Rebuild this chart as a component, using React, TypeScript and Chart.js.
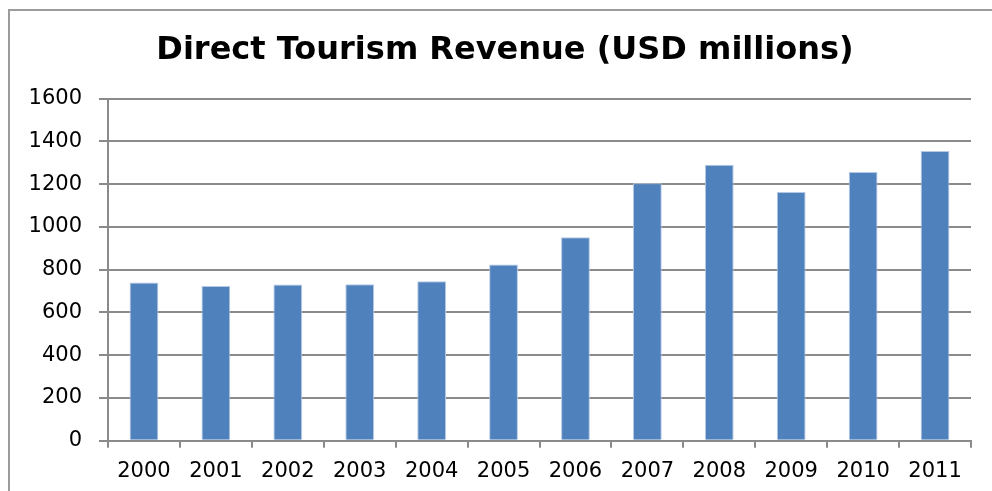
import React, { useEffect, useRef } from "react";
import { Chart, registerables } from "chart.js";

Chart.register(...registerables);

const categories = ["2000", "2001", "2002", "2003", "2004", "2005", "2006", "2007", "2008", "2009", "2010", "2011"];
const revenue = [740, 724, 731, 732, 746, 824, 951, 1204, 1290, 1163, 1256, 1355];
const yTicks = [0, 200, 400, 600, 800, 1000, 1200, 1400, 1600];
const titleText = "Direct Tourism Revenue (USD millions)";

const FONT = "'DejaVu Sans', sans-serif";
const GRID = "#8a8a8a";

const titlePlugin = {
  id: "offsetTitle",
  afterDraw(chart: any) {
    const ctx = chart.ctx;
    ctx.save();
    ctx.font = `bold 32px ${FONT}`;
    ctx.fillStyle = "#000";
    ctx.textAlign = "center";
    ctx.textBaseline = "middle";
    ctx.fillText(titleText, 505, 51);
    ctx.restore();
  },
};

export default function App() {
  const ref = useRef<HTMLCanvasElement | null>(null);

  useEffect(() => {
    const canvas = ref.current;
    if (!canvas) return;
    const chart = new Chart(canvas, {
      type: "bar",
      data: {
        labels: categories,
        datasets: [
          {
            data: revenue,
            backgroundColor: "#4F81BD",
            borderColor: "#b4c8e4",
            borderWidth: 1,
            barPercentage: 0.8,
            categoryPercentage: 0.5,
          },
        ],
      },
      plugins: [titlePlugin],
      options: {
        animation: false,
        responsive: false,
        layout: { padding: { left: 0, right: 21, top: 98.5, bottom: -4 } },
        plugins: {
          legend: { display: false },
          tooltip: { enabled: false },
          title: { display: false },
        },
        scales: {
          x: {
            grid: {
              offset: true,
              drawOnChartArea: false,
              color: GRID,
              lineWidth: 2,
              tickLength: 7,
            },
            border: { display: true, color: GRID, width: 2 },
            ticks: { color: "#000", font: { family: FONT, size: 21 }, padding: 11 },
          },
          y: {
            min: yTicks[0],
            max: yTicks[yTicks.length - 1],
            afterBuildTicks: (scale: any) => {
              scale.ticks = yTicks.map((v) => ({ value: v }));
            },
            afterFit: (scale: any) => {
              scale.width = 108;
            },
            grid: { color: GRID, lineWidth: 2, tickLength: 9 },
            border: { display: true, color: GRID, width: 2 },
            ticks: {
              color: "#000",
              font: { family: FONT, size: 21 },
              padding: 17,
              callback: (v: any) => String(v),
            },
          },
        },
      },
    });
    return () => chart.destroy();
  }, []);

  return (
    <div style={{ position: "absolute", left: 0, top: 0, width: 992, height: 491, background: "#fff" }}>
      <div
        style={{
          position: "absolute",
          left: 8,
          top: 9,
          right: 0,
          bottom: 0,
          borderLeft: "2px solid #9c9c9c",
          borderTop: "2px solid #9c9c9c",
        }}
      />
      <canvas ref={ref} width={992} height={491} style={{ position: "absolute", left: 0, top: 0 }} />
    </div>
  );
}
